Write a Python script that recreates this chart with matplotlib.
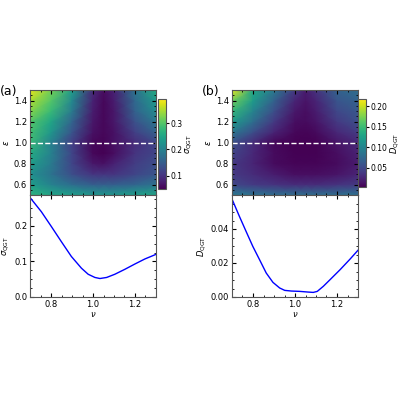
import numpy as np
import matplotlib
matplotlib.use("Agg")
import matplotlib.pyplot as plt
from matplotlib.ticker import AutoMinorLocator

# grid used by the maps
nu_grid = [0.7, 0.8, 0.9, 1.0, 1.05, 1.1, 1.2, 1.3]
eps_grid = [0.5, 0.6, 0.7, 0.8, 0.9, 1.0, 1.1, 1.2, 1.3, 1.4, 1.5]

# sigma_QGT map, rows follow eps_grid
sigma_map = [
    [0.27, 0.25, 0.24, 0.23, 0.23, 0.23, 0.24, 0.25],
    [0.24, 0.20, 0.17, 0.15, 0.15, 0.15, 0.16, 0.18],
    [0.22, 0.18, 0.13, 0.10, 0.10, 0.10, 0.12, 0.14],
    [0.24, 0.19, 0.12, 0.07, 0.065, 0.08, 0.11, 0.13],
    [0.26, 0.20, 0.12, 0.055, 0.05, 0.06, 0.10, 0.12],
    [0.28, 0.198, 0.114, 0.055, 0.052, 0.064, 0.093, 0.12],
    [0.29, 0.23, 0.14, 0.065, 0.055, 0.065, 0.115, 0.155],
    [0.30, 0.25, 0.16, 0.07, 0.055, 0.07, 0.135, 0.185],
    [0.33, 0.28, 0.19, 0.075, 0.055, 0.07, 0.155, 0.215],
    [0.35, 0.30, 0.21, 0.08, 0.055, 0.075, 0.165, 0.235],
    [0.38, 0.32, 0.24, 0.09, 0.06, 0.08, 0.18, 0.26],
]

# D_QGT map
d_map = [
    [0.09, 0.085, 0.08, 0.08, 0.08, 0.08, 0.08, 0.085],
    [0.05, 0.04, 0.035, 0.03, 0.03, 0.03, 0.035, 0.04],
    [0.04, 0.03, 0.02, 0.012, 0.012, 0.012, 0.015, 0.025],
    [0.04, 0.025, 0.01, 0.006, 0.006, 0.006, 0.01, 0.02],
    [0.048, 0.028, 0.01, 0.004, 0.003, 0.004, 0.012, 0.024],
    [0.057, 0.03, 0.008, 0.0034, 0.003, 0.003, 0.016, 0.0275],
    [0.09, 0.055, 0.025, 0.008, 0.006, 0.009, 0.028, 0.042],
    [0.12, 0.08, 0.04, 0.012, 0.01, 0.015, 0.04, 0.055],
    [0.145, 0.10, 0.055, 0.018, 0.012, 0.02, 0.05, 0.062],
    [0.17, 0.12, 0.07, 0.025, 0.015, 0.025, 0.06, 0.07],
    [0.21, 0.13, 0.09, 0.04, 0.02, 0.035, 0.07, 0.08],
]

# cuts at eps = 1.0
nu_a = [0.7, 0.754, 0.802, 0.849, 0.897, 0.945, 0.977, 1.009, 1.033, 1.065,
        1.104, 1.152, 1.2, 1.247, 1.3]
sigma_cut = [0.280, 0.240, 0.198, 0.156, 0.114, 0.081, 0.064, 0.055, 0.052, 0.055,
             0.064, 0.078, 0.093, 0.107, 0.120]
nu_b = [0.7, 0.735, 0.767, 0.799, 0.831, 0.863, 0.895, 0.927, 0.951, 0.983,
        1.023, 1.063, 1.087, 1.106, 1.135, 1.167, 1.215, 1.263, 1.3]
d_cut = [0.0576, 0.0475, 0.0386, 0.0298, 0.0220, 0.0141, 0.0086, 0.0053, 0.0039, 0.0035,
         0.0033, 0.0029, 0.0027, 0.0033, 0.0063, 0.0102, 0.0161, 0.0224, 0.0275]

plt.rcParams['font.size'] = 6
plt.rcParams['axes.edgecolor'] = '#555555'

fig = plt.figure(figsize=(4, 4), dpi=100)


def style(ax):
    ax.tick_params(which='both', direction='in', top=True, right=True, labelsize=6, pad=2)
    ax.tick_params(which='major', length=3)
    ax.tick_params(which='minor', length=1.5)
    ax.xaxis.set_minor_locator(AutoMinorLocator(4))
    ax.yaxis.set_minor_locator(AutoMinorLocator(4))


panels = [
    (0.075, sigma_map, nu_a, sigma_cut, (0.049, 0.392), r'$\sigma_{\rm QGT}$', (0, 0.287),
     [0.0, 0.1, 0.2], [0.1, 0.2, 0.3], 0.395, 0.5275, 0.225, '(a)'),
    (0.58, d_map, nu_b, d_cut, (0.004, 0.217), r'$D_{\rm QGT}$', (0, 0.06),
     [0.0, 0.02, 0.04], [0.05, 0.10, 0.15, 0.20], 0.895, 0.5325, 0.22, '(b)'),
]

for left, zmap, nu_c, cut, clim, lab, ylim, yt, ct, cbx, cby, cbh, tag in panels:
    ax1 = fig.add_axes([left, 0.5125, 0.315, 0.2625])
    ax2 = fig.add_axes([left, 0.2575, 0.315, 0.255])
    mesh = ax1.pcolormesh(nu_grid, eps_grid, np.array(zmap), shading='gouraud',
                          cmap='viridis', vmin=clim[0], vmax=clim[1])
    ax1.axhline(1.0, color='white', ls='--', lw=1)
    ax1.set_xlim(0.7, 1.3)
    ax1.set_ylim(0.5, 1.5)
    ax1.set_yticks([0.6, 0.8, 1.0, 1.2, 1.4])
    ax1.set_xticks([0.8, 1.0, 1.2])
    ax1.set_xticklabels([])
    ax1.set_ylabel(r'$\epsilon$', labelpad=2)
    style(ax1)

    cax = fig.add_axes([cbx, cby, 0.02, cbh])
    cb = fig.colorbar(mesh, cax=cax, ticks=ct)
    cb.ax.tick_params(labelsize=5.5, length=2, pad=1)
    cb.set_label(lab, labelpad=1, fontsize=6)
    cb.outline.set_edgecolor('#555555')

    ax2.plot(nu_c, cut, color='blue', lw=1)
    ax2.set_xlim(0.7, 1.3)
    ax2.set_ylim(*ylim)
    ax2.set_xticks([0.8, 1.0, 1.2])
    ax2.set_yticks(yt)
    ax2.set_xlabel(r'$\nu$', labelpad=1)
    ax2.set_ylabel(lab, labelpad=2)
    style(ax2)

    fig.text(left - 0.075, 0.77, tag, fontsize=9, va='center')

fig.savefig('out.png', dpi=100)
